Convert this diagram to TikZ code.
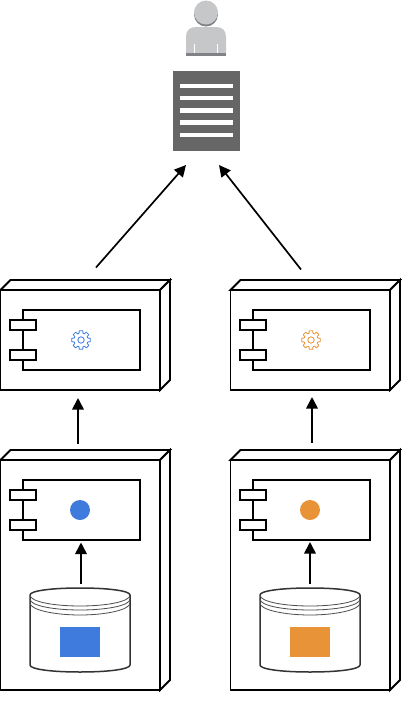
\documentclass[tikz,border=0pt]{standalone}
\usetikzlibrary{arrows.meta}
\definecolor{blueC}{HTML}{3E7BDC}
\definecolor{orangeC}{HTML}{E89338}
\definecolor{docgray}{HTML}{666666}
\definecolor{personL}{HTML}{C6C7C9}
\definecolor{personD}{HTML}{808285}
\tikzset{
  x=1pt,y=-1pt,
  boxline/.style={draw=black,line width=1.8pt,fill=white,line join=miter},
  conn/.style={draw=black,line width=1.7pt,-{Triangle[length=11.5pt,width=11.5pt]}},
  cyl/.style={draw=black!80,line width=1.5pt,fill=white},
  cylthin/.style={draw=black!70,line width=.8pt},
}
\newcommand{\cloudbox}[3]{% x shift, top y of front, bottom y of front
  \begin{scope}[xshift=#1pt]
    \draw[boxline] (0.5,#2) rectangle (160,#3);
    \draw[boxline] (0.5,#2) -- (10.5,#2-10) -- (170,#2-10) -- (160,#2) -- cycle;
    \draw[boxline] (160,#2) -- (170,#2-10) -- (170,#3-10) -- (160,#3) -- cycle;
  \end{scope}}
\newcommand{\compbox}[2]{% x shift, y shift
  \begin{scope}[xshift=#1pt,yshift=-#2pt]
    \draw[boxline] (23,0) rectangle (140,60);
    \draw[boxline] (10,10) rectangle (36,20);
    \draw[boxline] (10,40) rectangle (36,50);
  \end{scope}}
\newcommand{\gearicon}[3]{% cx, cy, colour
  \begin{scope}[shift={(#1,#2)}]
    \draw[#3,line width=.8pt,line join=round]
      (-11:9.5)
      \foreach \a in {0,45,...,315}{
        -- (\a-11:9.5) -- (\a+11:9.5) -- (\a+16:7) -- (\a+29:7) -- (\a+34:9.5)
      } -- cycle;
    \draw[#3,line width=.8pt] (0,0) circle (3.2);
  \end{scope}}
\newcommand{\dbicon}[2]{% x shift, colour
  \begin{scope}[xshift=#1pt]
    \draw[cyl] (30,595) .. controls (30,591) and (50,588) .. (80,588)
      .. controls (110,588) and (130,591) .. (130,595) -- (130,665)
      .. controls (130,669) and (110,672) .. (80,672)
      .. controls (50,672) and (30,669) .. (30,665) -- cycle;
    \draw[cylthin] (30,595) .. controls (30,602) and (55,606) .. (80,606)
      .. controls (105,606) and (130,602) .. (130,595);
    \draw[cylthin] (30,599) .. controls (30,606) and (55,610) .. (80,610)
      .. controls (105,610) and (130,606) .. (130,599);
    \draw[cylthin] (30,603) .. controls (30,610) and (55,615) .. (80,615)
      .. controls (105,615) and (130,610) .. (130,603);
    \fill[#2] (60,627) rectangle (100,657);
  \end{scope}}
\begin{document}
\begin{tikzpicture}
\useasboundingbox (0,0) rectangle (410,710);
% person
\fill[personD] (206,14.5) circle (12);
\fill[personL] (206,12.5) circle (12);
\fill[personD] (186,53) rectangle (226,55.5);
\fill[personL] (186,53.5) -- (186,37) .. controls (186,30) and (190,27) .. (196,27)
  -- (216,27) .. controls (222,27) and (226,30) .. (226,37) -- (226,53.5) -- cycle;
\fill[personD] (186,53) rectangle (226,55.5);
\fill[white] (193.6,44) rectangle (195,53);
\fill[white] (217,44) rectangle (218.4,53);
% document
\fill[docgray] (172.5,70.5) rectangle (240,151);
\foreach \yy in {86,98,110.5,122.7,135}
  \fill[white] (180,\yy-2.3) rectangle (233,\yy+2.3);
% boxes
\cloudbox{0}{290}{390}
\cloudbox{230}{290}{390}
\cloudbox{0}{460}{690}
\cloudbox{230}{460}{690}
\compbox{0}{310}
\compbox{230}{310}
\compbox{0}{480}
\compbox{230}{480}
\gearicon{81}{340}{blueC}
\gearicon{311}{340}{orangeC}
\fill[blueC] (80,510) circle (10);
\fill[orangeC] (310,510) circle (10);
\dbicon{0}{blueC}
\dbicon{230}{orangeC}
% connector ends
\coordinate (a1) at (96,267.5);
\coordinate (a2) at (186,165);
\coordinate (b1) at (301,269.5);
\coordinate (b2) at (219,165);
\coordinate (c1) at (78,443.5);
\coordinate (c2) at (78,398);
\coordinate (d1) at (312,442.5);
\coordinate (d2) at (312,397);
\coordinate (e1) at (81,584);
\coordinate (e2) at (81,542.5);
\coordinate (f1) at (310,583.5);
\coordinate (f2) at (310,542);
\draw[conn] (a1) -- (a2);
\draw[conn] (b1) -- (b2);
\draw[conn] (c1) -- (c2);
\draw[conn] (d1) -- (d2);
\draw[conn] (e1) -- (e2);
\draw[conn] (f1) -- (f2);
\end{tikzpicture}
\end{document}
